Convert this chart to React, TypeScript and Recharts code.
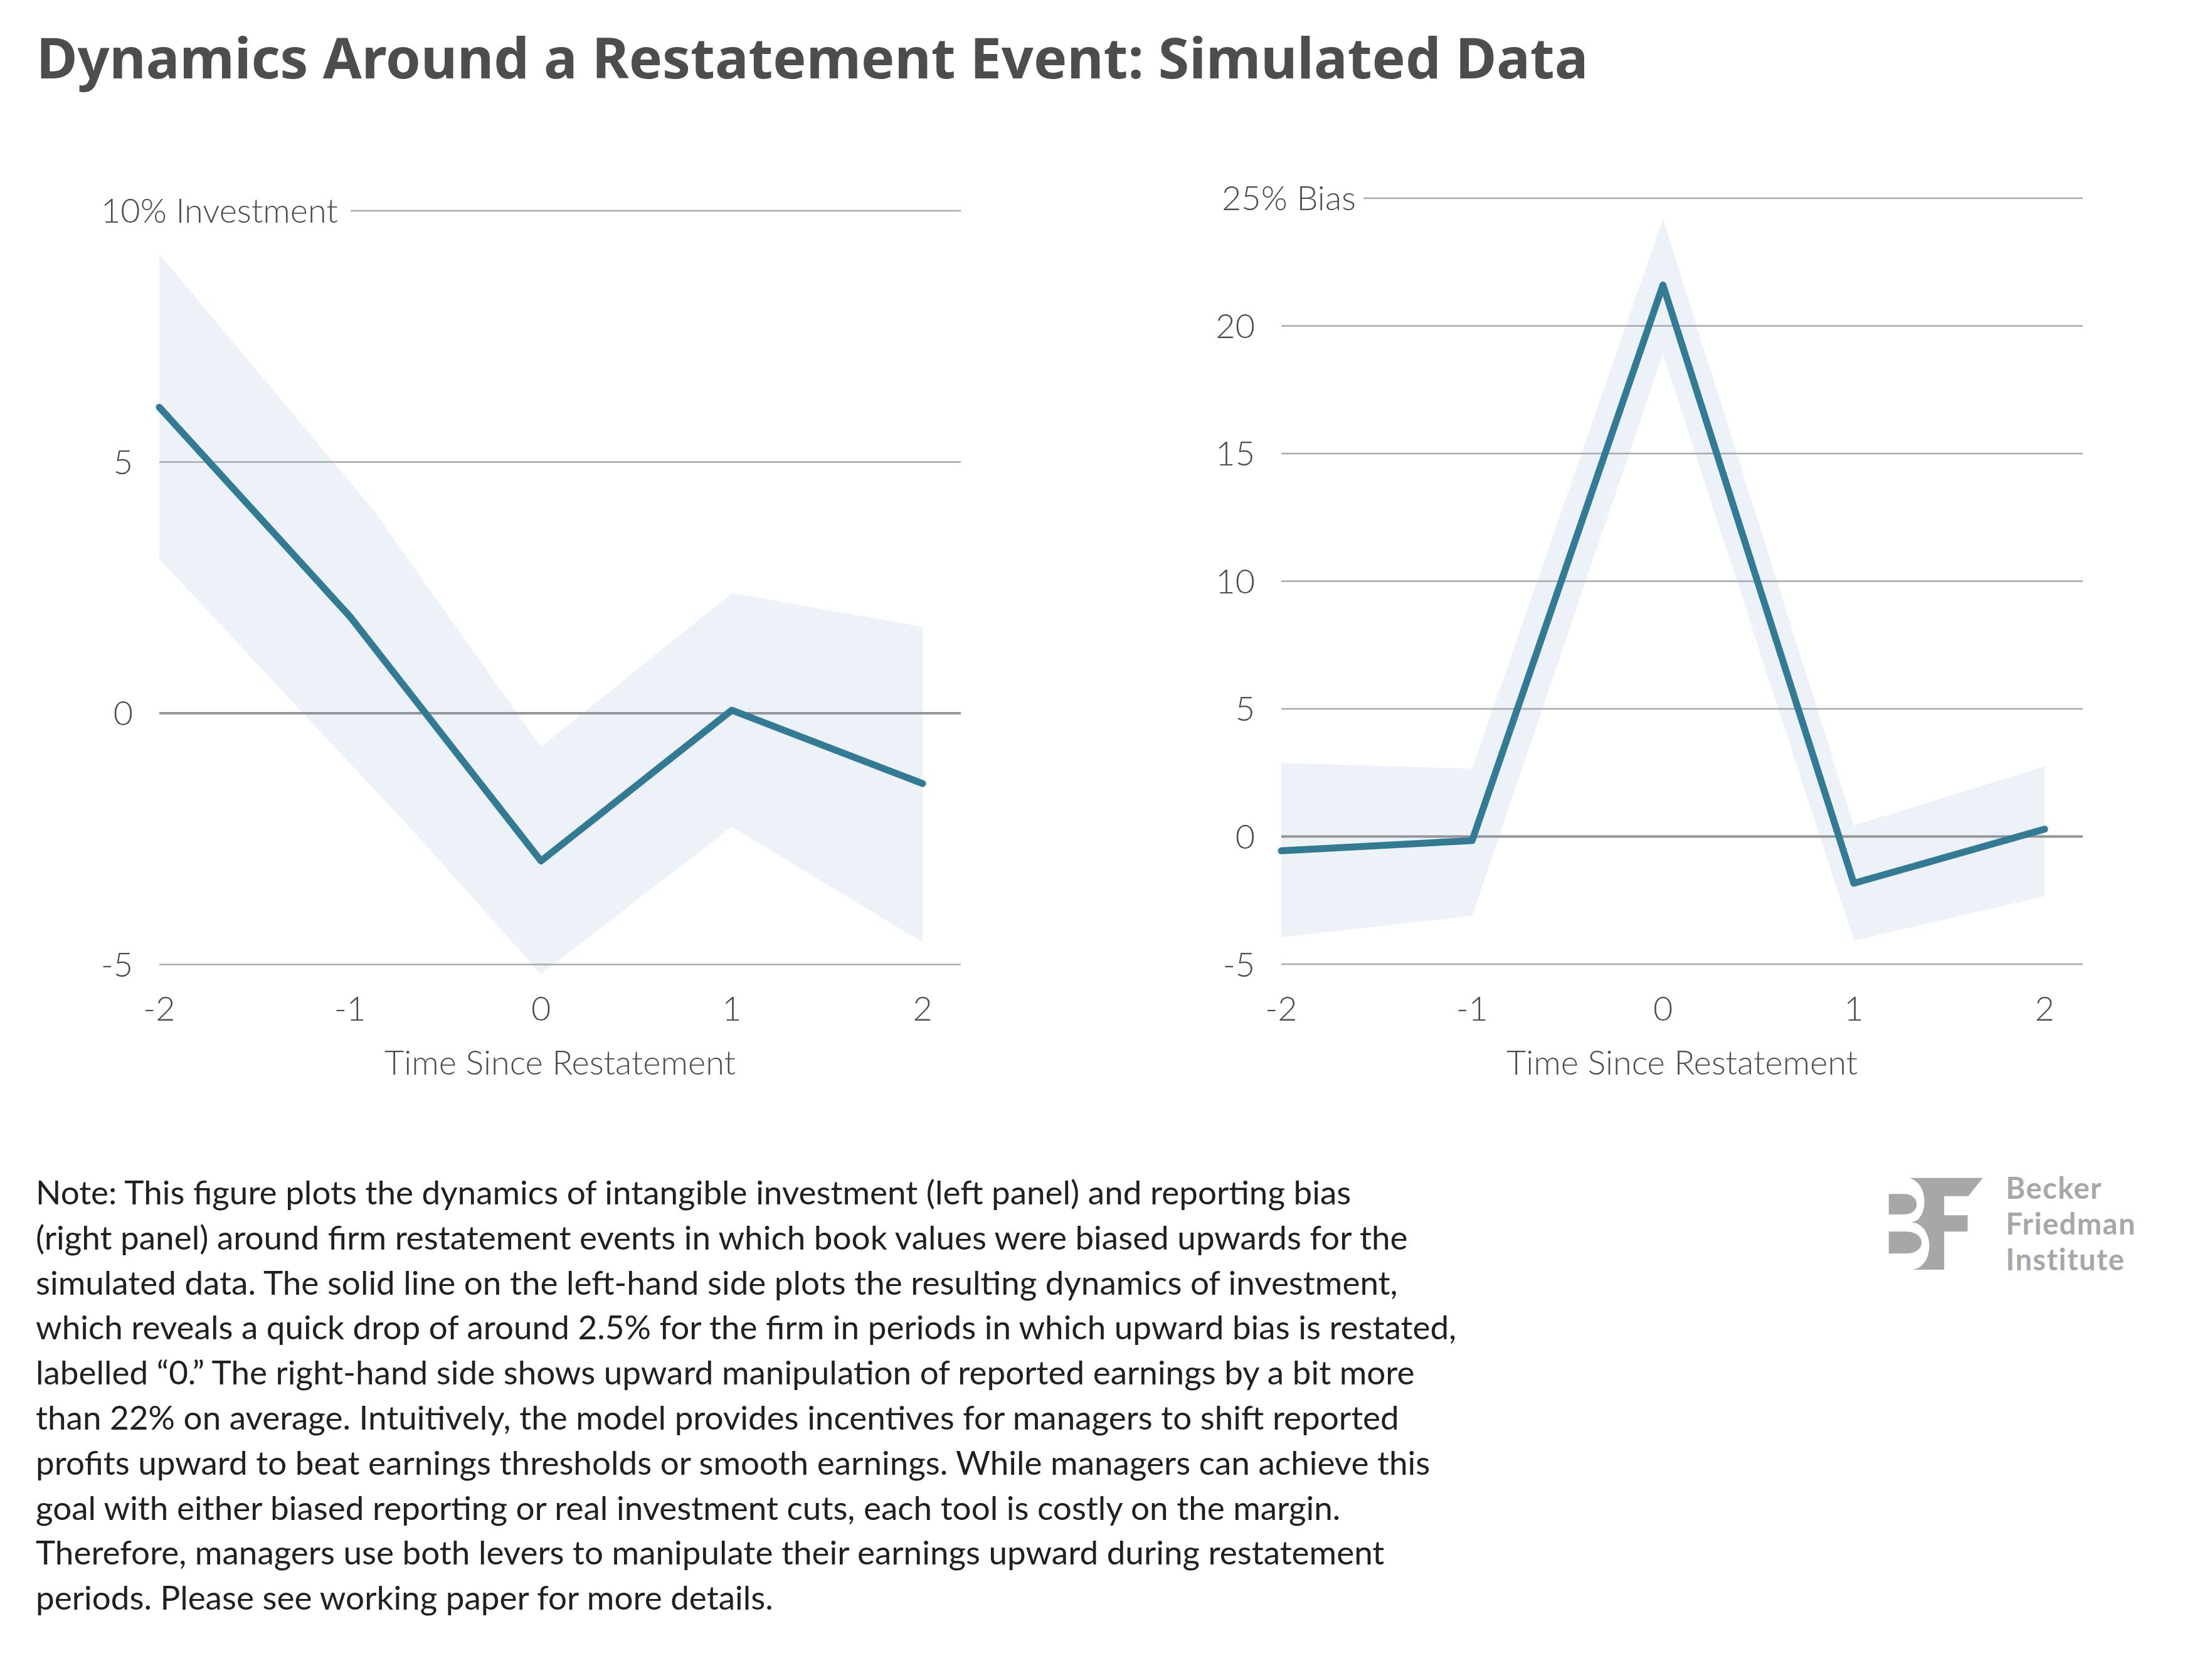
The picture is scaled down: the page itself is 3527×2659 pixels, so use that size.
import React from 'react'
import { ComposedChart, Area, Line, XAxis, YAxis, CartesianGrid, Label } from 'recharts'

// values
const periods = [-2, -1, 0, 1, 2]
const investment = [6.09, 1.92, -2.94, 0.06, -1.4]
const investmentBandT = [-2, -0.87, -0.69, 0, 1, 2]
const investmentLow = [3.07, -1.53, -2.26, -5.19, -2.26, -4.56]
const investmentHigh = [9.14, 4.01, 3.03, -0.67, 2.39, 1.72]
const bias = [-0.56, -0.16, 21.6, -1.83, 0.29]
const biasLow = [-3.94, -3.1, 18.9, -4.08, -2.33]
const biasHigh = [2.88, 2.66, 24.2, 0.43, 2.75]
const xTicks = [-2, -1, 0, 1, 2]
const investmentTicks = [-5, 0, 5, 10]
const biasTicks = [-5, 0, 5, 10, 15, 20, 25]

const noteLines = [
  'Note: This figure plots the dynamics of intangible investment (left panel) and reporting bias',
  '(right panel) around firm restatement events in which book values were biased upwards for the',
  'simulated data. The solid line on the left-hand side plots the resulting dynamics of investment,',
  'which reveals a quick drop of around 2.5% for the firm in periods in which upward bias is restated,',
  'labelled \u201C0.\u201D The right-hand side shows upward manipulation of reported earnings by a bit more',
  'than 22% on average. Intuitively, the model provides incentives for managers to shift reported',
  'profits upward to beat earnings thresholds or smooth earnings. While managers can achieve this',
  'goal with either biased reporting or real investment cuts, each tool is costly on the margin.',
  'Therefore, managers use both levers to manipulate their earnings upward during restatement',
  'periods. Please see working paper for more details.',
]

const logoLines = ['Becker', 'Friedman', 'Institute']

const FONT = 'Lato, "Noto Sans", sans-serif'
const TITLE_FONT = '"Noto Sans", Lato, sans-serif'
const LINE_COLOR = '#337b95'
const BAND_COLOR = '#ecf2f7'
const GRID_COLOR = '#a7a9ac'
const ZERO_COLOR = '#939598'
const TICK_COLOR = '#4d4d4f'
const TICK_SIZE = 54

const investmentBand = investmentBandT.map((t, i) => ({ t, range: [investmentLow[i], investmentHigh[i]] }))
const investmentLine = periods.map((t, i) => ({ t, value: investment[i] }))
const biasBand = periods.map((t, i) => ({ t, range: [biasLow[i], biasHigh[i]] }))
const biasLine = periods.map((t, i) => ({ t, value: bias[i] }))

interface PanelProps {
  left: number
  top: number
  width: number
  height: number
  margin: { top: number; right: number; bottom: number; left: number }
  yWidth: number
  xHeight: number
  domain: [number, number]
  yTicks: number[]
  topLabel: string
  topLabelX: number
  topGridX: number
  band: { t: number; range: number[] }[]
  line: { t: number; value: number }[]
}

function Panel({
  left, top, width, height, margin, yWidth, xHeight,
  domain, yTicks, topLabel, topLabelX, topGridX, band, line
}: PanelProps) {
  const plotLeft = margin.left + yWidth
  const plotRight = width - margin.right
  const plotTop = margin.top
  const plotBottom = height - margin.bottom - xHeight
  const [yMin, yMax] = domain
  const topTick = yTicks[yTicks.length - 1]

  const textStyle = { fontFamily: FONT, fontWeight: 300, fontSize: TICK_SIZE, fill: TICK_COLOR }

  const renderGrid = (p: any) => {
    const value = yMax - ((p.y1 - plotTop) / (plotBottom - plotTop)) * (yMax - yMin)
    const isTop = Math.abs(value - topTick) < 0.05
    const isZero = Math.abs(value) < 0.05
    return (
      <line
        key={p.key}
        x1={isTop ? topGridX : p.x1}
        x2={p.x2}
        y1={p.y1}
        y2={p.y2}
        stroke={isZero ? ZERO_COLOR : GRID_COLOR}
        strokeWidth={isZero ? 4 : 2.5}
      />
    )
  }

  const renderYTick = (p: any) => {
    const v = p.payload.value
    if (v === topTick) {
      return (
        <text x={topLabelX} y={p.y} dy="0.36em" textAnchor="start" style={textStyle}>
          {`${v}% ${topLabel}`}
        </text>
      )
    }
    return (
      <text x={plotLeft - 42} y={p.y} dy="0.36em" textAnchor="end" style={textStyle}>
        {v}
      </text>
    )
  }

  const renderXTick = (p: any) => (
    <text x={p.x} y={plotBottom + 46} dy="0.36em" textAnchor="middle" style={textStyle}>
      {p.payload.value}
    </text>
  )

  const renderAxisTitle = () => (
    <text
      x={(plotLeft + plotRight) / 2}
      y={plotBottom + 132}
      dy="0.36em"
      textAnchor="middle"
      style={textStyle}
    >
      Time Since Restatement
    </text>
  )

  return (
    <div style={{ position: 'absolute', left, top, width, height }}>
      <ComposedChart width={width} height={height} margin={margin}>
        <XAxis
          type="number"
          dataKey="t"
          domain={[-2, 2.2]}
          ticks={xTicks}
          interval={0}
          axisLine={false}
          tickLine={false}
          height={xHeight}
          tick={renderXTick}
        >
          <Label content={renderAxisTitle} />
        </XAxis>
        <YAxis
          type="number"
          domain={domain}
          ticks={yTicks}
          interval={0}
          axisLine={false}
          tickLine={false}
          width={yWidth}
          tick={renderYTick}
        />
        <Area
          data={band}
          dataKey="range"
          type="linear"
          stroke="none"
          fill={BAND_COLOR}
          fillOpacity={1}
          dot={false}
          activeDot={false}
          isAnimationActive={false}
        />
        <CartesianGrid vertical={false} horizontal={renderGrid} horizontalValues={yTicks} zIndex={200} />
        <Line
          data={line}
          dataKey="value"
          type="linear"
          stroke={LINE_COLOR}
          strokeWidth={11}
          strokeLinecap="round"
          strokeLinejoin="round"
          dot={false}
          activeDot={false}
          isAnimationActive={false}
        />
      </ComposedChart>
    </div>
  )
}

function Logo() {
  const gray = '#a7a7a8'
  return (
    <g transform="translate(2980,1850) scale(0.3333)">
      <path d="M200,83 H545 L475,170 H360 V262 H472 V340 H360 V522 H200 Z" fill={gray} />
      <path d="M95,83 H180 C290,88 290,292 200,295 H95 Z" fill="#fff" />
      <path d="M95,295 H200 C318,300 318,520 200,522 H95 Z" fill="#fff" />
      <path d="M95,160 H170 C248,162 248,256 170,258 H95 Z" fill={gray} />
      <path d="M95,340 H180 C276,342 276,443 180,445 H95 Z" fill={gray} />
      <text style={{ fontFamily: FONT, fontWeight: 700, fontSize: 141, letterSpacing: 4.5, fill: gray }}>
        {logoLines.map((l, i) => (
          <tspan key={l} x={655} y={183 + i * 171}>{l}</tspan>
        ))}
      </text>
    </g>
  )
}

export default function App() {
  return (
    <div style={{ position: 'absolute', left: 0, top: 0, width: 3527, height: 2659, background: '#fff' }}>
      <svg width={3527} height={2659} style={{ position: 'absolute', left: 0, top: 0 }}>
        <text
          x={58}
          y={125}
          style={{ fontFamily: TITLE_FONT, fontWeight: 700, fontSize: 89.5, fill: '#4d4d4f' }}
        >
          Dynamics Around a Restatement Event: Simulated Data
        </text>
        <g style={{ fontFamily: FONT, fontWeight: 400, fontSize: 53, fill: '#231f20' }}>
          {noteLines.map((l, i) => (
            <text key={i} x={57} y={1920 + i * 71.8}>{l}</text>
          ))}
        </g>
        <Logo />
      </svg>
      <Panel
        left={0}
        top={200}
        width={1600}
        height={1560}
        margin={{ top: 136, right: 68, bottom: 0, left: 0 }}
        yWidth={254}
        xHeight={198.5}
        domain={[-5.3, 10]}
        yTicks={investmentTicks}
        topLabel="Investment"
        topLabelX={161}
        topGridX={559}
        band={investmentBand}
        line={investmentLine}
      />
      <Panel
        left={1760}
        top={200}
        width={1640}
        height={1560}
        margin={{ top: 116, right: 79, bottom: 0, left: 0 }}
        yWidth={283}
        xHeight={198.5}
        domain={[-5.6, 25]}
        yTicks={biasTicks}
        topLabel="Bias"
        topLabelX={188}
        topGridX={414}
        band={biasBand}
        line={biasLine}
      />
    </div>
  )
}
